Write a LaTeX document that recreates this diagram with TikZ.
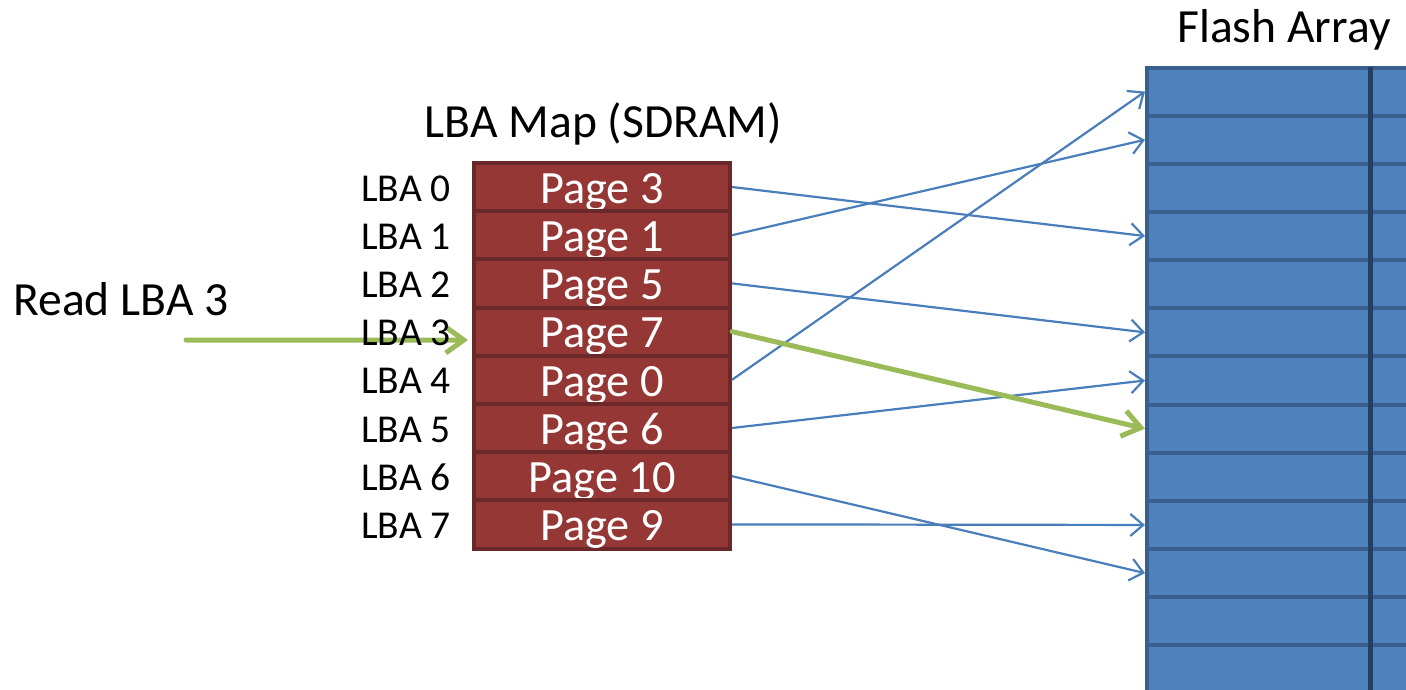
\documentclass[tikz,border=0pt]{standalone}
\usepackage{fontspec}
\setmainfont{Carlito}
\usetikzlibrary{arrows.meta}
\definecolor{mapfill}{HTML}{953735}
\definecolor{mapline}{HTML}{6B2828}
\definecolor{flashfill}{HTML}{4F81BD}
\definecolor{flashline}{HTML}{3A5F8C}
\definecolor{flashdiv}{HTML}{243F60}
\definecolor{linkblue}{HTML}{4A7EBB}
\definecolor{readgreen}{HTML}{9BBB59}
\begin{document}
\begin{tikzpicture}[x=1pt,y=-1pt,
  maprow/.style={draw=mapline, fill=mapfill, line width=4pt,
    minimum width=256pt, minimum height=48.2pt, inner sep=0pt,
    text=white, font=\fontsize{46.3}{46.3}\selectfont,
    text height=36pt, text depth=3.4pt},
  flashrow/.style={draw=flashline, fill=flashfill, line width=4pt,
    minimum width=300pt, minimum height=48.15pt, inner sep=0pt},
  lbalabel/.style={anchor=base east, inner sep=0pt,
    font=\fontsize{39.5}{39.5}\selectfont},
  title/.style={anchor=base, inner sep=0pt,
    font=\fontsize{47.6}{47.6}\selectfont},
  link/.style={draw=linkblue, line width=2.2pt,
    -{Straight Barb[length=13pt,width=22pt]}},
  readlink/.style={draw=readgreen, line width=5pt, line cap=round,
    -{Straight Barb[length=18pt,width=26pt]}}
]
\useasboundingbox (0,0) rectangle (1406,690);
\clip (0,0) rectangle (1406,690);

% flash array: thirteen page rows and the column divider
\foreach \k in {0,...,12}
  \node[flashrow] (f\k) at (1297,91.6+48.15*\k) {};
\draw[flashdiv, line width=5pt] (1370,67.5) -- (1370,700);
\node[title] (flashtitle) at (1284,43) {Flash Array};

% LBA map held in SDRAM
\node[title] (maptitle) at (603.5,138) {LBA Map (SDRAM)};
\foreach \pg [count=\i from 0] in {3,1,5,7,0,6,10,9}
  \node[maprow] (p\pg) at (602,187+48.2*\i) {Page \pg};

% incoming read request
\node[title] (readtxt) at (121,315) {Read LBA 3};
\coordinate (readstart) at (186,340);
\draw[readlink, shorten >=4pt] (readstart) -- ([yshift=-8.4pt]p7.west);

% LBA indices
\foreach \i in {0,...,7}
  \node[lbalabel] (lba\i) at (451,201+48.2*\i) {LBA \i};

% map entries pointing into the flash array
\draw[link] (p3.east) -- (f3.west);
\draw[link] (p1.east) -- (f1.west);
\draw[link] (p5.east) -- (f5.west);
\draw[link] (p0.east) -- (f0.west);
\draw[link] (p6.east) -- (f6.west);
\draw[link] (p10.east) -- (f10.west);
\draw[link] (p9.east) -- (f9.west);
\draw[readlink] (p7.east) -- (f7.west);
\end{tikzpicture}
\end{document}
